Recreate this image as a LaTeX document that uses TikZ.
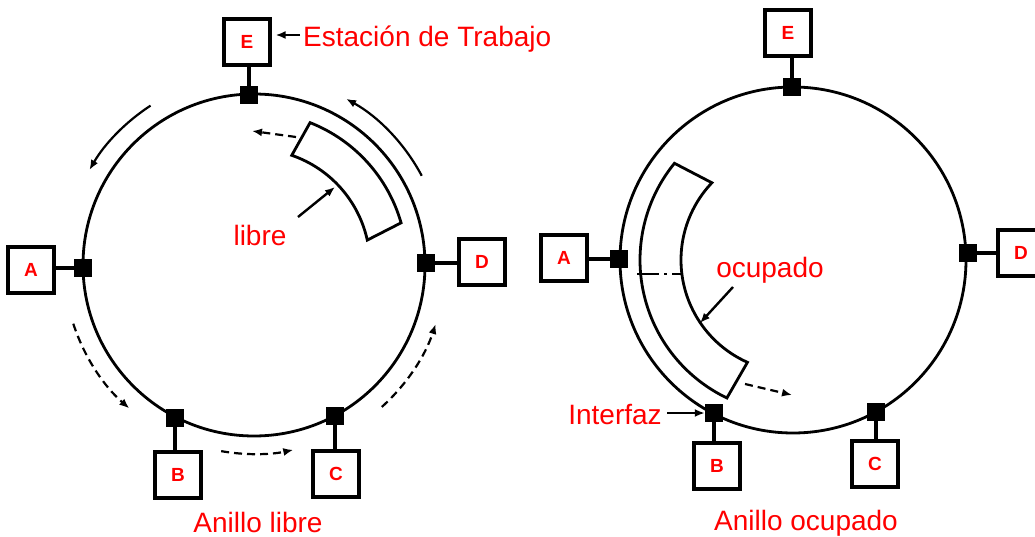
\documentclass[tikz,border=0pt]{standalone}
\usepackage{fontspec}
\setmainfont{Liberation Sans}
\usetikzlibrary{arrows.meta,calc}
\begin{document}
\begin{tikzpicture}[x=1pt,y=-1pt,
  ring/.style={line width=2.8pt},
  station/.style={draw, line width=3.2pt, minimum width=46pt, minimum height=46pt, inner sep=0pt,
    font=\fontsize{19}{19}\selectfont\bfseries, text=red},
  iface/.style={fill=black, minimum size=18pt, inner sep=0pt},
  stem/.style={line width=3.2pt},
  lbl/.style={text=red, font=\fontsize{28}{28}\selectfont, inner sep=0pt},
  flow/.style={line width=2.2pt, -{Latex[length=10pt,width=8pt]}},
  dflow/.style={flow, dash pattern=on 8pt off 5pt},
  band/.style={line width=2.8pt, line join=miter},
  pointer/.style={line width=2.4pt, -{Latex[length=10pt,width=8pt]}},
]
\useasboundingbox (0,0) rectangle (1035,537);
\clip (0,0) rectangle (1035,537);

% ================= Left ring: Anillo libre =================
\coordinate (L) at (254,265);
\draw[ring] (L) circle[radius=171];

\node[station] (lE) at (247,42) {E};
\node[station] (lA) at (31,270) {A};
\node[station] (lD) at (482,262) {D};
\node[station] (lB) at (178,475) {B};
\node[station] (lC) at (336,474) {C};

\node[iface] (liE) at (249,95) {};
\node[iface] (liA) at (83,268) {};
\node[iface] (liD) at (426,263) {};
\node[iface] (liB) at (175,418) {};
\node[iface] (liC) at (335,416) {};

\draw[stem] (liE.north) -- (liE.north |- lE.south);
\draw[stem] (liA.west) -- (liA.west -| lA.east);
\draw[stem] (liD.east) -- (liD.east -| lD.west);
\draw[stem] (liB.south) -- (liB.south |- lB.north);
\draw[stem] (liC.south) -- (liC.south |- lC.north);

% free token band
\draw[band] ($(L)+(-68.5:153)$) arc[start angle=-68.5, end angle=-16, radius=153]
  -- ($(L)+(-12.4:116)$) arc[start angle=-12.4, end angle=-71, radius=116] -- cycle;

% direction arrows around ring
\draw[flow]  ($(L)+(-123:190)$) arc[start angle=-123, end angle=-150, radius=190];
\draw[flow]  ($(L)+(-28:190)$)  arc[start angle=-28,  end angle=-61,  radius=190];
\draw[dflow] ($(L)+(-198:190)$) arc[start angle=-198, end angle=-229, radius=190];
\draw[dflow] ($(L)+(-260:189)$) arc[start angle=-260, end angle=-282, radius=189];
\draw[dflow] ($(L)+(-312:191)$) arc[start angle=-312, end angle=-342, radius=191];

% leading edge arrow of band
\coordinate (lbandTip) at (296,137);
\coordinate (lbandArr) at (252,131);
\draw[dflow] (lbandTip) -- (lbandArr);

% labels
\node[lbl, anchor=base west] (estacion) at (303,47) {Estación de Trabajo};
\coordinate (estA) at (300,35);
\draw[pointer, shorten >=4pt] (estA) -- (estA -| lE.east);
\node[lbl, anchor=base] (libre) at (260,245) {libre};
\coordinate (libreFrom) at (298,217);
\coordinate (libreTo) at (335,187);
\draw[pointer] (libreFrom) -- (libreTo);
\node[lbl, anchor=base] (anillolibre) at (258,532) {Anillo libre};

% ================= Right ring: Anillo ocupado =================
\coordinate (R) at (793,260);
\draw[ring] (R) circle[radius=173];

\node[station] (rE) at (788,33) {E};
\node[station] (rA) at (564,258) {A};
\node[station] (rD) at (1021,253) {D};
\node[station] (rB) at (717,466) {B};
\node[station] (rC) at (875,464) {C};

\node[iface] (riE) at (792,87) {};
\node[iface] (riA) at (619,259) {};
\node[iface] (riD) at (968,253) {};
\node[iface] (riB) at (714,413) {};
\node[iface] (riC) at (876,412) {};

\draw[stem] (riE.north) -- (riE.north |- rE.south);
\draw[stem] (riA.west) -- (riA.west -| rA.east);
\draw[stem] (riD.east) -- (riD.east -| rD.west);
\draw[stem] (riB.south) -- (riB.south |- rB.north);
\draw[stem] (riC.south) -- (riC.south |- rC.north);

% busy frame band
\draw[band] ($(R)+(-140.8:153)$) arc[start angle=-140.8, end angle=-244.4, radius=153]
  -- ($(R)+(-246:112)$) arc[start angle=-246, end angle=-136.4, radius=112] -- cycle;

% dash-dot mark across band
\coordinate (markA) at (637,274);
\coordinate (markB) at (681,274);
\draw[line width=2pt, dash pattern=on 22pt off 5pt on 3pt off 5pt] (markA) -- (markB);

% leading edge arrow
\coordinate (rbandTip) at (745,384);
\coordinate (rbandArr) at (792,395);
\draw[dflow] (rbandTip) -- (rbandArr);

% labels
\node[lbl, anchor=base] (ocupado) at (770,277) {ocupado};
\coordinate (ocupFrom) at (733,287);
\coordinate (ocupTo) at (700,323);
\draw[pointer] (ocupFrom) -- (ocupTo);
\node[lbl, anchor=base] (interfaz) at (615,424) {Interfaz};
\coordinate (intA) at (667,413);
\draw[pointer] (intA) -- (riB.west);
\node[lbl, anchor=base] (anilloocupado) at (806,530) {Anillo ocupado};
\end{tikzpicture}
\end{document}
